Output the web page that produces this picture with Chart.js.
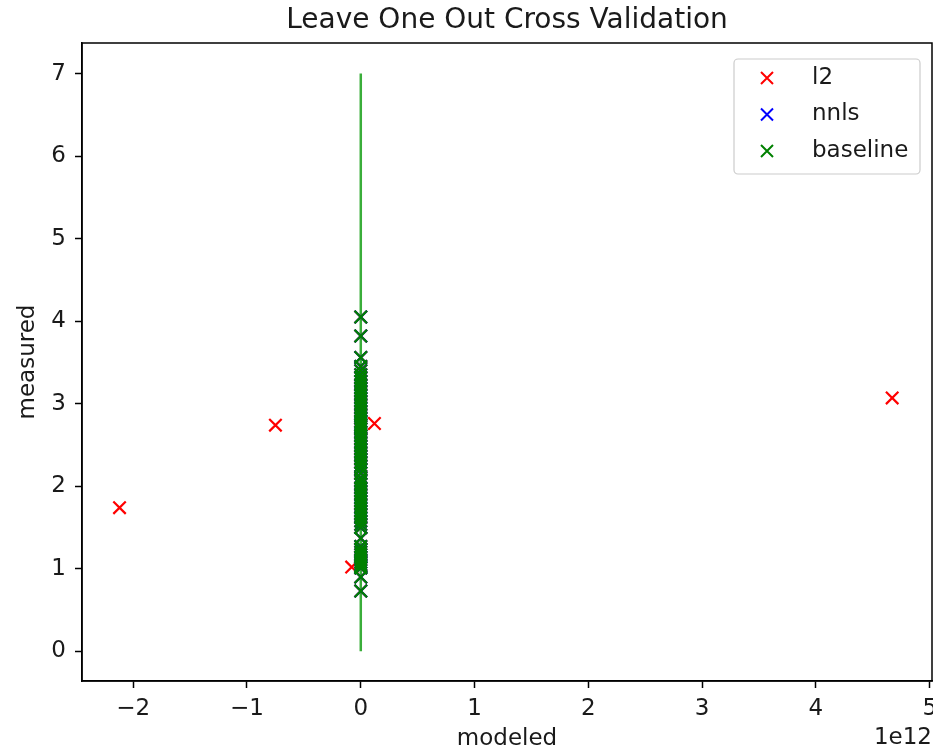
<!DOCTYPE html>
<html>
<head>
<meta charset="utf-8">
<script src="https://cdn.jsdelivr.net/npm/chart.js@4.4.1/dist/chart.umd.min.js"></script>
<style>
  body { margin: 0; background: #fff; }
</style>
</head>
<body>
<canvas id="loo" width="933" height="752"></canvas>
<script>
// measured value of each left-out sample (shared by all three models)
const measured = [0.73, 0.9, 1.01, 1.02, 1.05, 1.08, 1.11, 1.14, 1.17, 1.2,
  1.23, 1.27, 1.37, 1.5, 1.54, 1.58, 1.62, 1.66, 1.7, 1.74,
  1.78, 1.82, 1.86, 1.9, 1.94, 1.98, 2.02, 2.06, 2.1, 2.16,
  2.21, 2.25, 2.29, 2.33, 2.37, 2.41, 2.45, 2.49, 2.53, 2.57,
  2.61, 2.65, 2.69, 2.72, 2.74, 2.76, 2.79, 2.83, 2.87, 2.91,
  2.95, 2.99, 3.03, 3.07, 3.11, 3.15, 3.19, 3.23, 3.27, 3.31,
  3.35, 3.4, 3.45, 3.56, 3.82, 4.05];

// predictions of each model for the same samples
const l2Modeled = [1.42, 1.63, 1.21, -0.08e12, 1.37, 1.55, 1.29, 1.48, 1.71, 1.36,
  1.52, 1.44, 1.88, 1.93, 1.76, 2.05, 1.81, 2.12, 1.97, -2.12e12,
  2.04, 1.86, 2.23, 2.15, 1.99, 2.31, 2.08, 2.27, 2.19, 2.36,
  2.42, 2.28, 2.51, 2.39, 2.47, 2.33, 2.58, 2.44, 2.62, 2.55,
  2.49, 2.71, 2.66, 2.59, -0.75e12, 0.12e12, 2.68, 2.81, 2.74, 2.93,
  2.86, 2.97, 2.79, 4.67e12, 3.02, 2.91, 3.14, 3.08, 3.21, 3.03,
  3.26, 3.18, 3.33, 3.12, 3.41, 3.57];

const nnlsModeled = [1.58, 1.71, 1.39, 1.46, 1.52, 1.61, 1.43, 1.66, 1.57, 1.74,
  1.69, 1.62, 1.83, 1.97, 1.88, 2.01, 1.92, 2.09, 2.04, 2.13,
  2.11, 2.06, 2.18, 2.22, 2.14, 2.29, 2.24, 2.33, 2.27, 2.38,
  2.41, 2.35, 2.46, 2.43, 2.52, 2.48, 2.55, 2.51, 2.59, 2.57,
  2.62, 2.66, 2.61, 2.69, 2.73, 2.71, 2.68, 2.77, 2.74, 2.81,
  2.79, 2.85, 2.82, 2.88, 2.91, 2.86, 2.94, 2.97, 2.92, 3.01,
  3.04, 2.99, 3.08, 3.06, 3.13, 3.22];

const baselineModeled = [2.56, 2.55, 2.54, 2.54, 2.54, 2.54, 2.54, 2.53, 2.53, 2.53,
  2.53, 2.53, 2.53, 2.53, 2.52, 2.52, 2.52, 2.52, 2.52, 2.52,
  2.52, 2.52, 2.51, 2.51, 2.51, 2.51, 2.51, 2.51, 2.51, 2.51,
  2.51, 2.51, 2.5, 2.5, 2.5, 2.5, 2.5, 2.5, 2.5, 2.5,
  2.5, 2.5, 2.5, 2.49, 2.49, 2.49, 2.49, 2.49, 2.49, 2.49,
  2.49, 2.49, 2.49, 2.48, 2.48, 2.48, 2.48, 2.48, 2.48, 2.48,
  2.47, 2.47, 2.47, 2.47, 2.46, 2.45];

// y = x reference line
const refLine = [0, 7];

const xTicks = [-2e12, -1e12, 0, 1e12, 2e12, 3e12, 4e12, 5e12];
const yTicks = [0, 1, 2, 3, 4, 5, 6, 7];
const xRange = [-2.45e12, 5.02e12];
const yRange = [-0.36, 7.37];

const FONT = 'DejaVu Sans';
const INK = '#1a1a1a';

const pts = (xs, ys) => xs.map((x, i) => ({ x: x, y: ys[i] }));
const minus = s => String(s).replace('-', '\u2212');

const cross = color => ({
  showLine: false,
  pointStyle: 'crossRot',
  pointRadius: 8.8,
  pointHoverRadius: 8.8,
  pointBorderWidth: 2.2,
  borderColor: color,
  backgroundColor: color
});

// axes box, title, offset text and legend
const frame = {
  id: 'frame',
  afterDatasetsDraw(chart) {
    const { ctx, chartArea: a } = chart;
    ctx.save();
    ctx.strokeStyle = '#000';
    ctx.lineWidth = 1.5;
    ctx.strokeRect(a.left, a.top, a.right - a.left, a.bottom - a.top);

    ctx.fillStyle = INK;
    ctx.font = '28px "' + FONT + '"';
    ctx.textAlign = 'center';
    ctx.textBaseline = 'middle';
    ctx.fillText('Leave One Out Cross Validation', (a.left + a.right) / 2, 21);

    ctx.font = '23px "' + FONT + '"';
    ctx.textAlign = 'right';
    ctx.fillText('1e12', a.right, 738);

    // legend
    const bx = 734, by = 59, bw = 186, bh = 115;
    ctx.fillStyle = 'rgba(255,255,255,0.8)';
    ctx.strokeStyle = '#cccccc';
    ctx.lineWidth = 1.2;
    ctx.beginPath();
    ctx.roundRect(bx, by, bw, bh, 4);
    ctx.fill();
    ctx.stroke();

    const items = chart.data.datasets.filter(d => d.label);
    items.forEach((d, i) => {
      const y = 78 + i * 36.5;
      const x = 767, h = 6;
      ctx.strokeStyle = d.borderColor;
      ctx.lineWidth = 2;
      ctx.beginPath();
      ctx.moveTo(x - h, y - h); ctx.lineTo(x + h, y + h);
      ctx.moveTo(x - h, y + h); ctx.lineTo(x + h, y - h);
      ctx.stroke();
      ctx.fillStyle = INK;
      ctx.textAlign = 'left';
      ctx.fillText(d.label, 812, y);
    });
    ctx.restore();
  }
};

new Chart(document.getElementById('loo'), {
  type: 'scatter',
  data: {
    datasets: [
      { label: 'l2', data: pts(l2Modeled, measured), ...cross('#ff0000'), order: 3 },
      { label: 'nnls', data: pts(nnlsModeled, measured), ...cross('#0000ff'), order: 2 },
      { label: 'baseline', data: pts(baselineModeled, measured), ...cross('#008000'), order: 1 },
      { label: '', data: pts(refLine, refLine), showLine: true, borderColor: '#3aae3a',
        borderWidth: 2.5, pointRadius: 0, pointHoverRadius: 0, order: 4 }
    ]
  },
  options: {
    responsive: false,
    animation: false,
    layout: { autoPadding: false, padding: { top: 43, right: 1, left: 0, bottom: 0 } },
    plugins: {
      legend: { display: false },
      title: { display: false },
      tooltip: { enabled: false }
    },
    scales: {
      x: {
        type: 'linear',
        min: xRange[0],
        max: xRange[1],
        afterBuildTicks: s => { s.ticks = xTicks.map(v => ({ value: v })); },
        afterFit: s => { s.height = 71; s.paddingLeft = 0; s.paddingRight = 0; },
        border: { color: '#000', width: 1.5 },
        grid: { drawOnChartArea: false, tickLength: 7, tickColor: '#000', tickWidth: 1.5 },
        ticks: {
          autoSkip: false, maxRotation: 0, padding: 7, color: INK,
          font: { family: FONT, size: 23 },
          callback: v => minus(Math.round(v / 1e12))
        },
        title: {
          display: true, text: 'modeled', color: INK,
          font: { family: FONT, size: 23 }, padding: { top: 0, bottom: -1 }
        }
      },
      y: {
        type: 'linear',
        min: yRange[0],
        max: yRange[1],
        afterBuildTicks: s => { s.ticks = yTicks.map(v => ({ value: v })); },
        afterFit: s => { s.width = 82; s.paddingTop = 0; s.paddingBottom = 0; },
        border: { color: '#000', width: 1.5 },
        grid: { drawOnChartArea: false, tickLength: 7, tickColor: '#000', tickWidth: 1.5 },
        ticks: {
          autoSkip: false, padding: 9, color: INK,
          font: { family: FONT, size: 23 },
          callback: v => minus(v)
        },
        title: {
          display: true, text: 'measured', color: INK,
          font: { family: FONT, size: 23 }, padding: { top: 14, bottom: 0 }
        }
      }
    }
  },
  plugins: [frame]
});
</script>
</body>
</html>
